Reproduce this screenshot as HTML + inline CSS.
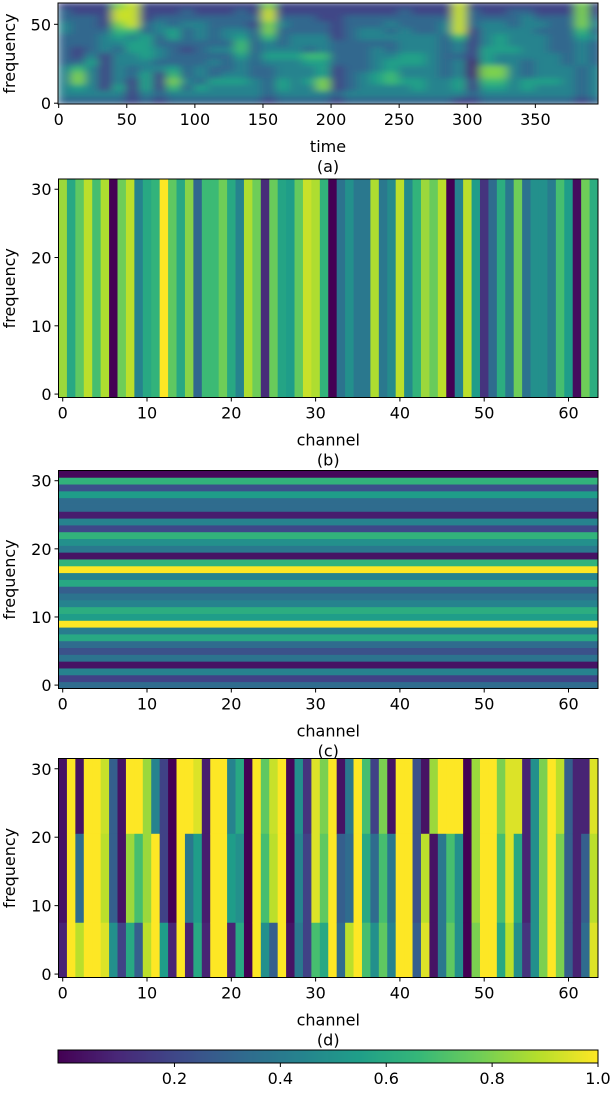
<!DOCTYPE html>
<html><head><meta charset="utf-8"><style>
body{margin:0;background:#fff}
svg text{font-family:"DejaVu Sans","Liberation Sans",sans-serif;fill:#000}
</style></head><body>
<svg id="fig" width="612" height="1092" xmlns="http://www.w3.org/2000/svg">
<defs>
<filter id="blur" filterUnits="userSpaceOnUse" x="40" y="-20" width="580" height="140"><feGaussianBlur stdDeviation="5 2.6"/></filter>
<clipPath id="clipA"><rect x="58" y="3" width="540" height="101"/></clipPath>
</defs>
</svg>
<script>
// ---- data ----
const specRows = [ // freq bands top (60-63) -> bottom (0-3), 40 time bins of 10
"3333893333"+"3333383333"+"3333333339"+"3333333383",
"4333993334"+"3334393333"+"3333343339"+"4334433383",
"4443993444"+"4444494443"+"3444444449"+"4444544484",
"5443894545"+"5444385444"+"3444544459"+"4554554485",
"5444774564"+"5455484444"+"3455454459"+"3555544474",
"4445656464"+"5456474555"+"3455555547"+"3565554465",
"4445566444"+"4447454555"+"4444455545"+"3565554454",
"4345466543"+"4557455545"+"4445455545"+"3666554454",
"4353556544"+"4446466677"+"4445566544"+"3655555454",
"4463555444"+"4545455566"+"4445666545"+"2655455454",
"5753545564"+"5445445556"+"3445655545"+"2885455545",
"5853546374"+"5455445556"+"3456755545"+"2885455545",
"5853536385"+"4666546568"+"3456766556"+"3775666545",
"5653636374"+"6555546558"+"3455556556"+"3665655545",
"5555535455"+"5555545555"+"4555555555"+"4555555545",
"4444434344"+"4444434444"+"3444444443"+"3444444434"];
const chanB = [0.85,0.6,0.75,0.9,0.7,0.88,0.0,0.78,0.9,0.45,0.6,0.65,1.0,0.75,0.6,0.82,0.33,0.68,0.68,0.78,0.6,0.45,0.88,0.78,0.12,0.77,0.58,0.55,0.76,0.92,0.88,0.65,
0.0,0.38,0.5,0.4,0.4,0.88,0.4,0.48,0.9,0.48,0.65,0.85,0.77,0.9,0.0,0.45,0.9,0.55,0.15,0.35,0.62,0.4,0.78,0.38,0.5,0.5,0.42,0.7,0.55,0.03,0.78,0.62];
const freqC = [0.35,0.2,0.45,0.05,0.38,0.25,0.35,0.6,0.42,1.0,0.55,0.62,0.45,0.38,0.3,0.6,0.45,1.0,0.65,0.05,0.4,0.5,0.65,0.22,0.45,0.08,0.35,0.35,0.55,0.25,0.65,0.02];
const dHigh = [0.05,1.0,0.05,1.0,1.0,0.92,0.3,0.05,1.0,1.0,0.85,0.45,0.2,0.0,1.0,1.0,0.95,0.08,1.0,1.0,0.45,0.6,0.0,1.0,0.75,0.92,1.0,0.02,0.5,0.15,0.95,0.8,
1.0,0.05,0.4,1.0,0.7,0.2,0.8,0.05,1.0,1.0,0.25,0.05,0.85,1.0,1.0,1.0,0.0,0.85,1.0,1.0,0.8,0.95,0.95,0.1,0.5,0.8,1.0,0.9,0.3,0.1,0.1,0.95];
const dMid = [0.05,1.0,0.35,1.0,1.0,0.9,0.3,0.05,0.85,0.7,0.85,1.0,0.2,0.0,1.0,0.4,0.55,0.08,1.0,1.0,0.55,0.5,0.0,1.0,0.7,0.9,1.0,0.02,0.45,0.2,0.95,0.75,
1.0,0.3,0.35,1.0,0.6,0.35,0.7,0.4,1.0,1.0,0.25,0.9,0.05,0.4,0.7,0.5,0.0,0.85,1.0,1.0,0.7,0.95,0.6,0.1,0.5,0.8,1.0,0.8,0.3,0.1,0.3,0.9];
const dLow = [0.1,1.0,0.9,1.0,1.0,0.95,0.5,0.2,0.6,0.3,0.9,1.0,0.55,0.1,1.0,0.1,0.6,0.1,1.0,1.0,0.1,0.6,0.0,1.0,0.5,0.3,1.0,0.05,0.4,0.2,0.7,0.6,
1.0,0.35,0.9,1.0,0.7,0.5,0.75,0.45,1.0,1.0,0.3,0.95,0.05,0.4,0.75,0.5,0.0,0.8,1.0,1.0,0.6,0.9,0.5,0.15,0.5,0.8,1.0,0.8,0.3,0.1,0.35,0.95];
const cbTicks = [0.2,0.4,0.6,0.8,1.0];
const timeTicks = [0,50,100,150,200,250,300,350];
const chanTicks = [0,10,20,30,40,50,60];

// ---- helpers ----
const NS="http://www.w3.org/2000/svg", svg=document.getElementById('fig');
const V=[[68,1,84],[72,40,120],[62,73,137],[49,104,142],[38,130,142],[31,158,137],[53,183,121],[109,205,89],[180,222,44],[253,231,37]];
function vir(t){t=Math.max(0,Math.min(1,t))*9;const i=Math.min(8,Math.floor(t)),f=t-i;const a=V[i],b=V[i+1];
return `rgb(${Math.round(a[0]+(b[0]-a[0])*f)},${Math.round(a[1]+(b[1]-a[1])*f)},${Math.round(a[2]+(b[2]-a[2])*f)})`;}
function mk(tag,attrs,parent){const e=document.createElementNS(NS,tag);for(const k in attrs)e.setAttribute(k,attrs[k]);(parent||svg).appendChild(e);return e;}
function txt(x,y,s,anchor,size,parent){const t=mk('text',{x:x,y:y,'text-anchor':anchor||'middle','font-size':size||16},parent);t.textContent=s;return t;}
function lin(d0,d1,p0,p1){return v=>p0+(v-d0)*(p1-p0)/(d1-d0);}

function axes(id,x0,x1,y0,y1,sx,sy,xt,yt,xlabel,cap){
  const g=mk('g',{});
  
  
  mk('rect',{x:x0,y:y0,width:x1-x0,height:y1-y0,fill:'none',stroke:'#000','stroke-width':1},g);
  xt.forEach(v=>{const x=sx(v);mk('line',{x1:x,x2:x,y1:y1,y2:y1+4,stroke:'#000'},g);
    const t=txt(x,y1+21,String(v),'middle',16,g);
    
    });
  yt.forEach(v=>{const y=sy(v);mk('line',{x1:x0-4,x2:x0,y1:y,y2:y,stroke:'#000'},g);
    const t=txt(x0-7,y+6,String(v),'end',16,g);
    
    });
  const yl=txt(0,0,'frequency','middle',16,g);
  yl.setAttribute('transform',`translate(15,${(y0+y1)/2}) rotate(-90)`);
  
  
  const xl=txt((x0+x1)/2,y1+48,xlabel,'middle',16,g);
  
  
  const c=txt((x0+x1)/2,y1+68,cap,'middle',16,g);
  
  
}

// ---- panel a ----
{const x0=58,x1=598,y0=3,y1=104;
 const sx=lin(-0.5,396,x0,x1), sy=lin(-0.5,63.5,y1,y0);
 const g=mk('g',{'clip-path':'url(#clipA)'});
 
 
 const gb=mk('g',{filter:'url(#blur)'},g);
 const nb=specRows.length;
 specRows.forEach((row,r)=>{const fTop=(nb-r)*4-0.5,fBot=(nb-r-1)*4-0.5;
  for(let i=0;i<row.length;i++){const v=+row[i]/10;
   const rc=mk('rect',{x:sx(i*10-0.5)-0.5,y:sy(fTop)-0.5,width:sx(10)-sx(0)+1,height:sy(fBot)-sy(fTop)+1,fill:vir((v-0.12)/0.85)},gb);
   
   }});
 axes('panel-a',x0,x1,y0,y1,sx,sy,timeTicks,[0,50],'time','(a)');}

// ---- panel b ----
{const x0=58.5,x1=598,y0=179,y1=397.5;
 const sx=lin(-0.5,63.5,x0,x1), sy=lin(-0.5,31.5,y1,y0);
 chanB.forEach((v,i)=>{const r=mk('rect',{x:sx(i-0.5),y:y0,width:sx(i+0.5)-sx(i-0.5)+0.4,height:y1-y0,fill:vir(v)});
  
  });
 axes('panel-b',x0,x1,y0,y1,sx,sy,chanTicks,[0,10,20,30],'channel','(b)');}

// ---- panel c ----
{const x0=58.5,x1=598,y0=470.5,y1=688.5;
 const sx=lin(-0.5,63.5,x0,x1), sy=lin(-0.5,31.5,y1,y0);
 freqC.forEach((v,f)=>{const r=mk('rect',{x:x0,y:sy(f+0.5),width:x1-x0,height:sy(f-0.5)-sy(f+0.5)+0.4,fill:vir(v)});
  
  });
 axes('panel-c',x0,x1,y0,y1,sx,sy,chanTicks,[0,10,20,30],'channel','(c)');}

// ---- panel d ----
{const x0=58.5,x1=598,y0=758.5,y1=977.5;
 const sx=lin(-0.5,63.5,x0,x1), sy=lin(-0.5,31.5,y1,y0);
 for(let c=0;c<64;c++){
  [[21,31,dHigh[c]],[8,20,dMid[c]],[0,7,dLow[c]]].forEach(([a,b,v])=>{
   const r=mk('rect',{x:sx(c-0.5),y:sy(b+0.5),width:sx(c+0.5)-sx(c-0.5)+0.4,height:sy(a-0.5)-sy(b+0.5)+0.4,fill:vir(v)});
   
   });}
 axes('panel-d',x0,x1,y0,y1,sx,sy,chanTicks,[0,10,20,30],'channel','(d)');}

// ---- colorbar ----
{const x0=58,x1=598,y0=1050,y1=1063;const sc=lin(-0.02,1.0,x0,x1);
 const g=mk('g',{});
 
 
 for(let i=0;i<270;i++){mk('rect',{x:x0+i*2,y:y0,width:2.4,height:y1-y0,fill:vir(i/269)},g);}
 mk('rect',{x:x0,y:y0,width:x1-x0,height:y1-y0,fill:'none',stroke:'#000'},g);
 cbTicks.forEach(v=>{const x=sc(v);mk('line',{x1:x,x2:x,y1:y1,y2:y1+4,stroke:'#000'},g);
  const t=txt(x,y1+21,v.toFixed(1),'middle',16,g);
  
  });}
</script>
</body></html>
